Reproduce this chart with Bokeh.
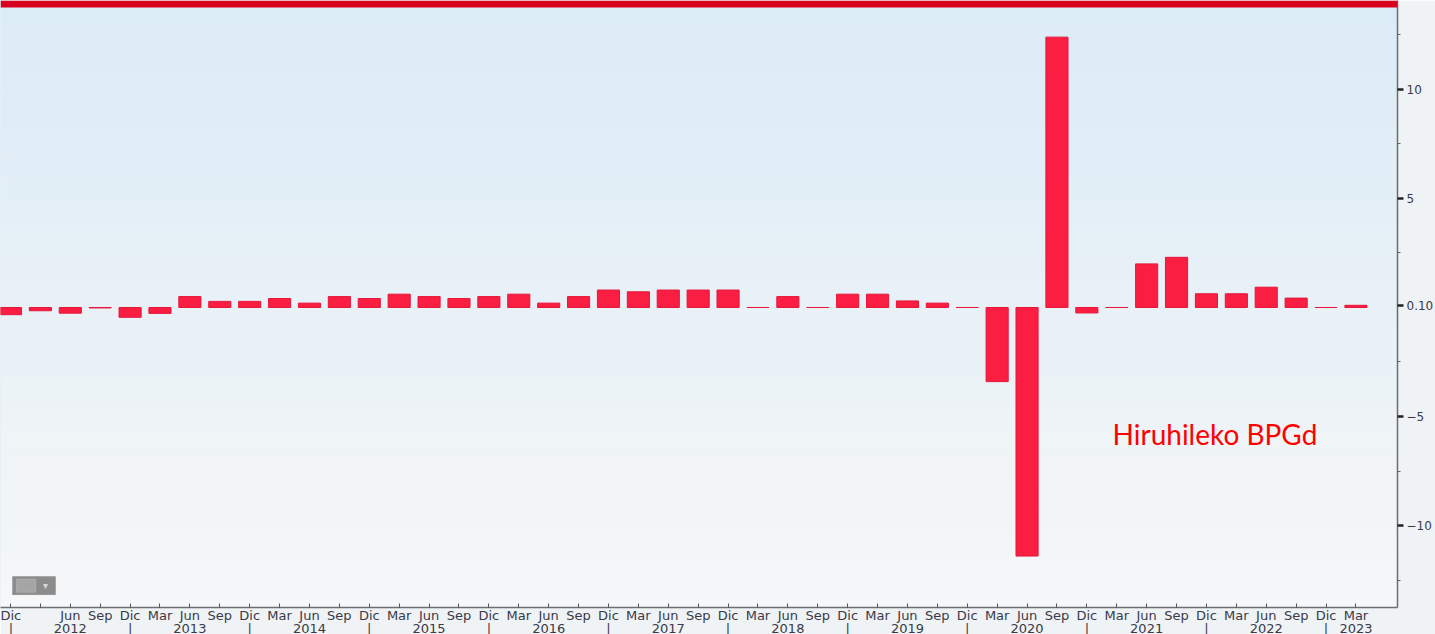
import numpy as np
from bokeh.plotting import figure
from bokeh.models import (Range1d, FixedTicker, BoxAnnotation, Label,
                          ColumnDataSource)
from bokeh.embed import file_html
from bokeh.resources import INLINE

# ---------------- data ----------------
# quarterly labels, Dec 2011 .. Mar 2023 ("" = label not shown)
quarter_labels = ["Dic", "", "Jun", "Sep",
                  "Dic", "Mar", "Jun", "Sep",
                  "Dic", "Mar", "Jun", "Sep",
                  "Dic", "Mar", "Jun", "Sep",
                  "Dic", "Mar", "Jun", "Sep",
                  "Dic", "Mar", "Jun", "Sep",
                  "Dic", "Mar", "Jun", "Sep",
                  "Dic", "Mar", "Jun", "Sep",
                  "Dic", "Mar", "Jun", "Sep",
                  "Dic", "Mar", "Jun", "Sep",
                  "Dic", "Mar", "Jun", "Sep",
                  "Dic", "Mar"]
# quarter-on-quarter GDP change (%)
gdp_qoq = [-0.33, -0.15, -0.26, -0.02,
           -0.45, -0.27, 0.50, 0.28,
           0.28, 0.41, 0.20, 0.50,
           0.41, 0.61, 0.50, 0.41,
           0.50, 0.61, 0.20, 0.50,
           0.80, 0.72, 0.80, 0.80,
           0.80, 0.00, 0.50, 0.00,
           0.61, 0.61, 0.30, 0.20,
           0.00, -3.40, -11.40, 12.40,
           -0.25, 0.00, 2.00, 2.30,
           0.63, 0.63, 0.93, 0.43,
           0.00, 0.10]
years = ["2012", "2013", "2014", "2015", "2016", "2017",
         "2018", "2019", "2020", "2021", "2022", "2023"]
year_label_quarter = [2, 6, 10, 14, 18, 22, 26, 30, 34, 38, 42, 45]
y_ticks = [-10, -5, 5, 10]
last_value_label = "0.10"
annotation_text = "Hiruhileko BPGd"

# ---------------- figure ----------------
n = len(gdp_qoq)
idx = list(range(n))
y_lo, y_hi = -13.76, 14.08
ppu = 21.8  # pixels per unit on y

p = figure(frame_width=1397, frame_height=607,
           x_range=Range1d(-0.334, 46.39), y_range=Range1d(y_lo, y_hi),
           output_backend="svg", toolbar_location=None,
           y_axis_location="right",
           min_border_left=0, min_border_top=0,
           min_border_right=38, min_border_bottom=27)
p.outline_line_color = None
p.background_fill_color = "#e8f1f8"
p.border_fill_color = "#eff3f6"

# background gradient bands
top_c = np.array([0xdc, 0xec, 0xf7])
bot_c = np.array([0xf6, 0xf7, 0xf8])
nb = 24
edges = np.linspace(y_hi, y_lo, nb + 1)
for i in range(nb):
    t = i / (nb - 1)
    c = (top_c * (1 - t) + bot_c * t).astype(int)
    p.add_layout(BoxAnnotation(top=edges[i], bottom=edges[i + 1],
                               fill_color="#%02x%02x%02x" % tuple(c),
                               fill_alpha=1, line_color=None, level="underlay"))

# red top band
p.add_layout(BoxAnnotation(bottom=y_hi - 7 / ppu, fill_color="#d9001e",
                           fill_alpha=1, line_color=None))

# grids
minor_x = [q + k / 6 for q in range(-1, n + 1) for k in range(1, 6)]
p.xaxis.ticker = FixedTicker(ticks=idx, minor_ticks=minor_x)
p.xgrid.grid_line_color = "#bfcfdc"
p.xgrid.grid_line_alpha = 0.7
p.xgrid.minor_grid_line_color = "#c6d4df"
p.xgrid.minor_grid_line_alpha = 0.5

# right axis ticks, plus the last-value tick
last_val = gdp_qoq[-1]
p.yaxis.ticker = FixedTicker(ticks=y_ticks + [last_val],
                             minor_ticks=[-12.5, -7.5, -2.5, 2.5, 7.5, 12.5])
p.ygrid.ticker = FixedTicker(ticks=y_ticks + [0])
p.ygrid.grid_line_color = "#cbd6df"
p.ygrid.grid_line_alpha = 0.8

# bars
src = ColumnDataSource(dict(x=idx, top=gdp_qoq))
p.vbar(x="x", top="top", bottom=0, width=0.74, source=src,
       fill_color="#fa1e42", line_color="#e5173a", line_width=1)

# x axis: month on first line, year (or year separator) on second line
year_at = dict(zip(year_label_quarter, years))
overrides = {}
for i, lab in enumerate(quarter_labels):
    second = year_at.get(i, "|" if lab == "Dic" else "")
    overrides[i] = lab + "\n" + second
xa = p.xaxis[0]
xa.major_label_overrides = overrides
xa.major_tick_in = 4
xa.major_tick_out = 0
xa.minor_tick_in = 0
xa.minor_tick_out = 0
xa.minor_tick_line_color = None
xa.major_tick_line_color = "#555555"
xa.axis_line_color = "#6d6d6d"
xa.axis_line_width = 1.5
xa.major_label_standoff = 0
xa.major_label_text_font = "DejaVu Sans"
xa.major_label_text_font_size = "13px"
xa.major_label_text_line_height = 0.9
xa.major_label_text_color = "#3a3a48"

# y axis (right)
ya = p.yaxis[0]
ya.major_label_overrides = {last_val: last_value_label}
ya.axis_line_color = "#6d6d6d"
ya.axis_line_width = 1.5
ya.major_tick_out = 6
ya.major_tick_in = 0
ya.major_tick_line_width = 2.5
ya.major_tick_line_color = "#222222"
ya.minor_tick_out = 3
ya.minor_tick_in = 0
ya.minor_tick_line_color = "#666666"
ya.major_label_standoff = 3
ya.major_label_text_font = "DejaVu Sans"
ya.major_label_text_font_size = "12px"
ya.major_label_text_color = "#3a3a48"

# annotation
p.add_layout(Label(x=36.86, y=-5.78, text=annotation_text, text_baseline="middle",
                   text_align="left", text_font="Lato", text_font_size="28px",
                   text_color="#ff0000"))

# small chart-type icon (bottom-left)
p.add_layout(BoxAnnotation(left=0.067, right=1.505, top=-12.34, bottom=-13.17,
                           fill_color="#8c8c8c", fill_alpha=1, line_color="#6a6a6a"))
p.add_layout(BoxAnnotation(left=0.2, right=0.85, top=-12.45, bottom=-13.06,
                           fill_color="#a5a5a5", fill_alpha=1, line_color="#d0d0d0"))
p.add_layout(Label(x=1.17, y=-12.75, text="▾", text_align="center", text_baseline="middle",
                   text_font="DejaVu Sans", text_font_size="10px",
                   text_color="#d8d8d8"))

open("out.html", "w").write(file_html(p, INLINE))
